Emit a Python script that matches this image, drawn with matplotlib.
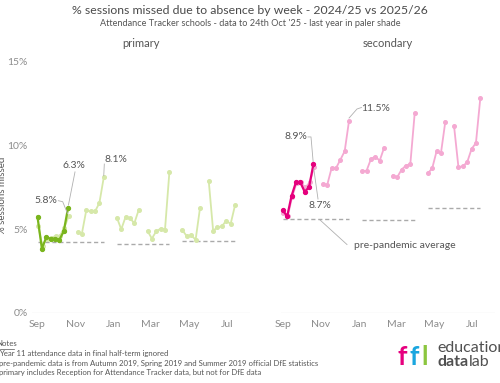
import numpy as np
import pandas as pd
import matplotlib
matplotlib.use("Agg")
import matplotlib.pyplot as plt
from matplotlib.lines import Line2D

plt.rcParams['font.family'] = ['Lato', 'DejaVu Sans']

# ---- data -------------------------------------------------------------
# week commencing dates, 2025/26 (this year)
this_year_weeks = ['2025-09-01', '2025-09-08', '2025-09-15', '2025-09-22',
                   '2025-09-29', '2025-10-06', '2025-10-13', '2025-10-20']
primary_this = [5.75, 3.85, 4.52, 4.44, 4.44, 4.38, 4.88, 6.3]
secondary_this = [6.13, 5.78, 7.0, 7.81, 7.81, 7.24, 7.52, 8.9]

# week commencing dates, 2024/25 (last year), with half-term number
last_year_weeks = ['2024-09-02', '2024-09-09', '2024-09-16', '2024-09-23', '2024-09-30',
                   '2024-10-07', '2024-10-14', '2024-10-21',
                   '2024-11-04', '2024-11-11', '2024-11-18', '2024-11-25', '2024-12-02',
                   '2024-12-09', '2024-12-16',
                   '2025-01-06', '2025-01-13', '2025-01-20', '2025-01-27', '2025-02-03',
                   '2025-02-10',
                   '2025-02-24', '2025-03-03', '2025-03-10', '2025-03-17', '2025-03-24',
                   '2025-03-31',
                   '2025-04-21', '2025-04-28', '2025-05-05', '2025-05-12', '2025-05-19',
                   '2025-06-02', '2025-06-09', '2025-06-16', '2025-06-23', '2025-06-30',
                   '2025-07-07', '2025-07-14']
last_year_halfterm = [1] * 8 + [2] * 7 + [3] * 6 + [4] * 6 + [5] * 5 + [6] * 7
primary_last = [5.2, 4.0, 4.45, 4.5, 4.6, 4.62, 5.1, 5.8,
                4.84, 4.74, 6.13, 6.07, 6.07, 6.57, 8.1,
                5.7, 5.0, 5.75, 5.65, 5.37, 6.17,
                4.9, 4.45, 4.88, 5.04, 4.98, 8.41,
                4.94, 4.58, 4.64, 4.38, 6.27,
                7.88, 4.92, 5.12, 5.18, 5.52, 5.32, 6.43]
secondary_last = [6.0, 5.8, 6.95, 7.75, 7.8, 7.5, 7.8, 8.7,
                  7.72, 7.65, 8.65, 8.65, 9.15, 9.67, 11.5,
                  8.47, 8.5, 9.2, 9.35, 9.1, 9.87,
                  8.21, 8.11, 8.57, 8.81, 8.89, 11.93,
                  8.35, 8.64, 9.66, 9.55, 11.43,
                  11.16, 8.71, 8.77, 9.01, 9.8, 10.16, 12.84]

# pre-pandemic averages per term
term_starts = ['2024-09-02', '2025-01-06', '2025-04-21']
term_ends = ['2024-12-16', '2025-03-31', '2025-07-14']
primary_prepandemic = [4.22, 4.1, 4.3]
secondary_prepandemic = [5.59, 5.54, 6.28]

month_ticks = ['2024-09-01', '2024-11-01', '2025-01-01', '2025-03-01', '2025-05-01', '2025-07-01']
month_labels = ['Sep', 'Nov', 'Jan', 'Mar', 'May', 'Jul']


def day_of_year(d):
    d = pd.Timestamp(d)
    yr = d.year if d.month >= 9 else d.year - 1
    return (d - pd.Timestamp(year=yr, month=9, day=1)).days


x_this = np.array([day_of_year(d) for d in this_year_weeks])
x_last = np.array([day_of_year(d) for d in last_year_weeks])
halfterm = np.array(last_year_halfterm)

TXT = '#555555'
GREY = '#8c8c8c'

fig = plt.figure(figsize=(5, 3.83), dpi=100)
ax1 = fig.add_axes([0.064, 0.1828, 0.436, 0.6554])
ax2 = fig.add_axes([0.562, 0.1828, 0.428, 0.6554])

panels = [
    (ax1, 'primary', primary_this, primary_last, primary_prepandemic, '#7ab51d', '#d6e8a9', (-8.8, 340)),
    (ax2, 'secondary', secondary_this, secondary_last, secondary_prepandemic, '#e5007d', '#f4a9d2', (-2.9, 339.5)),
]

for ax, name, this_vals, last_vals, pre_vals, dark, pale, xl in panels:
    last_vals = np.array(last_vals)
    for h in range(1, 7):
        m = halfterm == h
        ax.plot(x_last[m], last_vals[m], color=pale, lw=1.3, marker='o', ms=2.6,
                clip_on=False, zorder=2)
    for s, e, v in zip(term_starts, term_ends, pre_vals):
        ax.plot([day_of_year(s), day_of_year(e)], [v, v], color='#aaaaaa', lw=1.0,
                dashes=(3, 2), zorder=1)
    ax.plot(x_this, this_vals, color=dark, lw=1.6, marker='o', ms=2.8, clip_on=False, zorder=3)

    ax.set_xlim(*xl)
    ax.set_ylim(0, 15)
    for sp in ax.spines.values():
        sp.set_visible(False)
    ax.axhline(0, color='#e3e3e3', lw=0.9, zorder=0)
    ax.set_xticks([day_of_year(d) for d in month_ticks])
    ax.set_xticklabels(month_labels)
    ax.tick_params(length=0, labelsize=7.5, labelcolor=GREY, pad=5)
    ax.set_yticks([0, 5, 10, 15])
    ax.set_yticklabels(['0%', '5%', '10%', '15%'])
    ax.set_title(name, fontsize=8, color=TXT, pad=0, y=1.058)

ax2.set_yticklabels([])
ax1.tick_params(axis='y', pad=3)

LEAD = dict(color='#b0b0b0', lw=0.6, zorder=4)


def callout(ax, text, tx, ty, path, ha='center'):
    ax.text(tx, ty, text, fontsize=7.5, color=TXT, ha=ha, va='center', zorder=5)
    xs, ys = zip(*path)
    ax.plot(xs, ys, clip_on=False, **LEAD)


callout(ax1, '6.3%', 58.4, 8.79, [(60, 8.43), (49.5, 6.45)])
callout(ax1, '5.8%', 12.8, 6.71, [(33.3, 6.71), (40.3, 6.65), (48.3, 5.92)])
callout(ax1, '8.1%', 125.6, 9.2, [(106.9, 8.9), (106, 8.2)])
callout(ax2, '11.5%', 148.3, 12.24, [(125.9, 12.28), (118.7, 12.19), (106, 11.65)])
callout(ax2, '8.9%', 20.3, 10.52, [(40.3, 10.52), (45.1, 10.52), (48.5, 9.05)])
callout(ax2, '8.7%', 59.5, 6.4, [(56.3, 6.81), (49.6, 8.6)])
callout(ax2, 'pre-pandemic average', 113.9, 4.02, [(59.5, 5.56), (102.7, 4.09)], ha='left')

fig.text(0.006, 0.49, '% sessions missed', rotation=90, fontsize=7, color=TXT,
         ha='center', va='center')

fig.text(0.5, 1 - 10 / 383, '% sessions missed due to absence by week - 2024/25 vs 2025/26',
         fontsize=8.8, color='#4a4a4a', ha='center', va='center')
fig.text(0.5, 1 - 23 / 383, "Attendance Tracker schools - data to 24th Oct '25 - last year in paler shade",
         fontsize=6.6, color=TXT, ha='center', va='center')

# notes
fig.text(-0.008, 1 - 344 / 383, 'Notes', fontsize=5.6, color=TXT, ha='left', va='center')
fig.add_artist(Line2D([0, 0.028], [1 - 348.5 / 383] * 2, color=TXT, lw=0.5))
notes = ['Year 11 attendance data in final half-term ignored',
         'pre-pandemic data is from Autumn 2019, Spring 2019 and Summer 2019 official DfE statistics',
         'primary includes Reception for Attendance Tracker data, but not for DfE data']
for i, n in enumerate(notes):
    fig.text(-0.002, 1 - (353.5 + 9.7 * i) / 383, n, fontsize=5.6, color=TXT,
             ha='left', va='center')

# logo
for x, c, ch in [(398, '#e6007e', 'f'), (409, '#1aa6df', 'f'), (421, '#8cc63f', 'l')]:
    fig.text(x / 500, 1 - 365 / 383, ch, fontsize=19, fontweight='bold', color=c,
             ha='left', va='baseline')
fig.text(437 / 500, 1 - 352 / 383, 'education', fontsize=11.5, color='#505050',
         ha='left', va='baseline')
t_data = fig.text(437 / 500, 1 - 366 / 383, 'data', fontsize=11.5, color='#505050',
                  fontweight='bold', ha='left', va='baseline')
fig.canvas.draw()
x_end = t_data.get_window_extent().x1 / fig.bbox.width
fig.text(x_end + 0.002, 1 - 366 / 383, 'lab', fontsize=11.5, color='#505050',
         ha='left', va='baseline')

fig.savefig('out.png', dpi=100)
